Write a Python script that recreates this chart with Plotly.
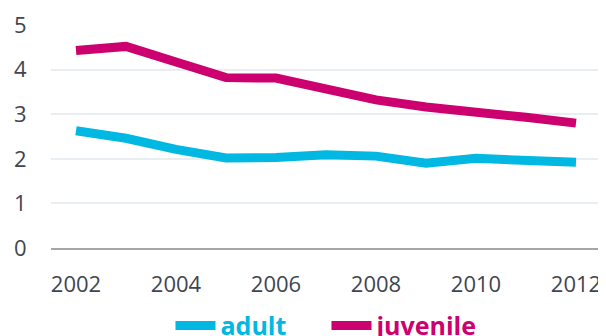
import plotly.graph_objects as go

years = ["2002", "2003", "2004", "2005", "2006", "2007", "2008", "2009", "2010", "2011", "2012"]
adult = [2.63, 2.46, 2.21, 2.02, 2.03, 2.09, 2.06, 1.90, 2.01, 1.97, 1.92]
juvenile = [4.43, 4.52, 4.17, 3.82, 3.81, 3.59, 3.32, 3.16, 3.07, 2.93, 2.80]
tick_years = ["2002", "2004", "2006", "2008", "2010", "2012"]

CYAN = "#00B8E2"
MAGENTA = "#CC006F"

fig = go.Figure()
fig.add_trace(go.Scatter(x=years, y=adult, mode="lines",
                         name=f"<b><span style='color:{CYAN}'>adult</span></b>",
                         line=dict(color=CYAN, width=9)))
fig.add_trace(go.Scatter(x=years, y=juvenile, mode="lines",
                         name=f"<b><span style='color:{MAGENTA}'>juvenile</span></b>",
                         line=dict(color=MAGENTA, width=9)))

fig.update_layout(
    width=598, height=328,
    margin=dict(l=43, r=5, t=17, b=88, autoexpand=False),
    paper_bgcolor="white", plot_bgcolor="white",
    font=dict(family="Open Sans", size=22, color="#3F4650"),
    showlegend=True,
    legend=dict(orientation="h", xref="container", yref="container",
                x=0.2717, xanchor="left", y=1 - 317.7 / 328, yanchor="middle",
                font=dict(size=25), itemwidth=40, entrywidth=101,
                tracegroupgap=0, bgcolor="rgba(0,0,0,0)"),
    xaxis=dict(type="category", range=[-0.5, 10.5],
               tickvals=tick_years, ticktext=tick_years,
               showgrid=False, showline=True, linecolor="#A6A6A6", linewidth=2,
               ticks="outside", ticklen=16, tickcolor="rgba(0,0,0,0)",
               zeroline=False),
    yaxis=dict(range=[0, 5], tickvals=[0, 1, 2, 3, 4, 5],
               showgrid=True, gridcolor="#E9EEF3", gridwidth=1.5,
               zeroline=False, showline=False,
               ticks="outside", ticklen=19, tickcolor="rgba(0,0,0,0)"),
)

fig.write_html("out.html")
